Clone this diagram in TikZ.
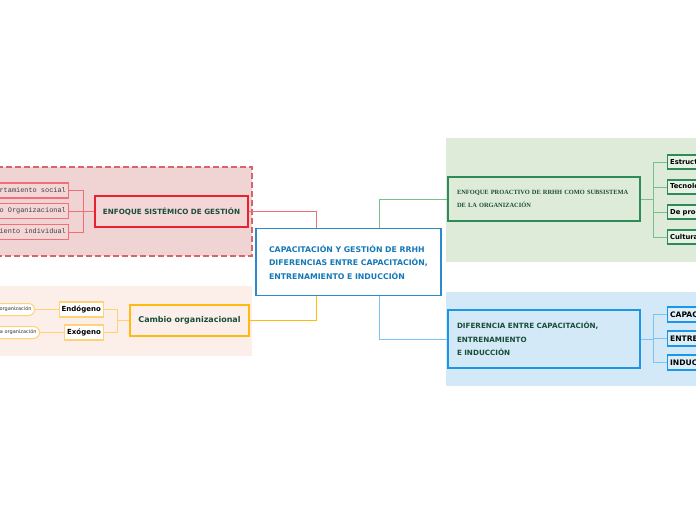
\documentclass[tikz,border=0pt]{standalone}
\usepackage{fontspec}
\setmainfont{DejaVu Sans}
\newfontfamily\monofont{Liberation Mono}
\newfontfamily\seriffont{Liberation Serif}
\usetikzlibrary{positioning}
\definecolor{MainBlue}   {HTML}{2B8ACB}
\definecolor{MainText}   {HTML}{1479B8}
\definecolor{DarkGreen}  {HTML}{1A4D3A}
\definecolor{RedLine}    {HTML}{E8232F}
\definecolor{RedSoft}    {HTML}{EE7079}
\definecolor{PinkBG}     {HTML}{F0D3D3}
\definecolor{PinkBox}    {HTML}{F4D6D7}
\definecolor{PinkDash}   {HTML}{D8646C}
\definecolor{YellowLine} {HTML}{FFB90F}
\definecolor{YellowSoft} {HTML}{FFD277}
\definecolor{CreamBG}    {HTML}{FCEFEA}
\definecolor{GreenLine}  {HTML}{2E8B57}
\definecolor{GreenSoft}  {HTML}{76C08E}
\definecolor{GreenBG}    {HTML}{DDEBD8}
\definecolor{GreenBox}   {HTML}{E6F2E3}
\definecolor{BlueLine}   {HTML}{1E96E8}
\definecolor{BlueSoft}   {HTML}{7CC4F4}
\definecolor{BlueBG}     {HTML}{D3E9F8}
\definecolor{BlueBox}    {HTML}{DCEEFA}

\tikzset{
  topic/.style={draw,line width=2pt,inner ysep=0pt,font=\bfseries\fontsize{7.2}{13.5}\selectfont,text=DarkGreen},
  redchild/.style={draw=RedSoft,fill=PinkBox,line width=1.3pt,minimum height=15pt,inner sep=2.5pt,
    font=\monofont\fontsize{6.9}{8}\selectfont,text=black!75},
  pill/.style={draw=YellowSoft,fill=white,line width=1pt,rounded corners=6pt,minimum height=12pt,inner sep=3pt,
    font=\fontsize{5}{6}\selectfont,text=black!80},
  yelchild/.style={draw=YellowSoft,fill=white,line width=1.3pt,minimum height=15pt,inner sep=2.5pt,
    font=\bfseries\fontsize{7}{8}\selectfont},
  greenchild/.style={draw=GreenLine,fill=GreenBox,line width=1.2pt,minimum height=14pt,inner sep=2.5pt,
    font=\bfseries\fontsize{6.8}{8}\selectfont},
  bluechild/.style={draw=BlueLine,fill=BlueBox,line width=1.2pt,minimum height=15pt,inner sep=2.5pt,
    font=\bfseries\fontsize{7.6}{8}\selectfont},
  link/.style={line width=1pt}
}

\begin{document}
\begin{tikzpicture}[x=1pt,y=-1pt]
  \useasboundingbox (0,0) rectangle (696,520);
  \clip (0,0) rectangle (696,520);

  % background areas
  \fill[PinkBG] (-5,167) rectangle (252,256);
  \draw[PinkDash,line width=1.3pt,dash pattern=on 6pt off 3pt] (-5,167) rectangle (252,256);
  \fill[CreamBG] (-5,286) rectangle (252,356);
  \fill[GreenBG] (446,138) rectangle (700,262);
  \fill[BlueBG] (446,292) rectangle (700,386);

  % central topic
  \node[draw=MainBlue,fill=white,line width=1.5pt,minimum width=185pt,minimum height=67pt,
        inner xsep=13pt,text width=159pt,align=left,text=MainText,
        font=\bfseries\fontsize{7.8}{13.5}\selectfont] (main) at (348.5,262)
    {CAPACITACIÓN Y GESTIÓN DE RRHH\\DIFERENCIAS ENTRE CAPACITACIÓN,\\ENTRENAMIENTO E INDUCCIÓN};

  % left upper branch
  \node[topic,draw=RedLine,fill=PinkBox,minimum width=153pt,minimum height=31pt] (sistemico) at (171.5,211.5)
    {ENFOQUE SISTÉMICO DE GESTIÓN};
  \node[redchild,anchor=east] (social) at (69,190.5) {Comportamiento social};
  \node[redchild,anchor=east] (desarrollo) at (69,211) {Desarrollo Organizacíonal};
  \node[redchild,anchor=east] (individual) at (69,232) {Comportamiento individual};
  \foreach \c in {social,desarrollo,individual}
    \draw[link,RedSoft] (sistemico.west) -- ++(-11,0) |- (\c.east);
  \draw[link,RedSoft] (sistemico.east) -| (main.north -| 316,0);

  % left lower branch
  \node[topic,draw=YellowLine,fill=CreamBG,minimum width=119pt,minimum height=31pt,
        font=\bfseries\fontsize{8}{9}\selectfont] (cambio) at (189.5,320.5) {Cambio organizacional};
  \node[yelchild,anchor=east] (endogeno) at (104,309.5) {Endógeno};
  \node[yelchild,anchor=east] (exogeno) at (104,332.5) {Exógeno};
  \node[pill,anchor=east] (dentro) at (35,309.5) {Dentro de la organización};
  \node[pill,anchor=east] (fuera) at (40,332.5) {Fuera de la organización};
  \foreach \c in {endogeno,exogeno}
    \draw[link,YellowSoft] (cambio.west) -- ++(-12,0) |- (\c.east);
  \draw[link,YellowSoft] (dentro) -- (endogeno);
  \draw[link,YellowSoft] (fuera) -- (exogeno);
  \draw[link,YellowLine] (cambio.east) -| (main.south -| 316,0);

  % right upper branch
  \node[topic,draw=GreenLine,fill=GreenBG,line width=2.2pt,minimum width=192pt,minimum height=44pt,
        inner xsep=9pt,text width=174pt,align=left,
        font=\seriffont\bfseries\fontsize{6.4}{13}\selectfont] (proactivo) at (544,199)
    {ENFOQUE PROACTIVO DE RRHH COMO SUBSISTEMA\\DE LA ORGANIZACIÓN};
  \node[greenchild,anchor=west] (estructural) at (667,162) {Estructural};
  \node[greenchild,anchor=west] (tecnologico) at (667,187) {Tecnológico};
  \node[greenchild,anchor=west] (produccion) at (667,212) {De producción};
  \node[greenchild,anchor=west] (cultural) at (667,237) {Cultural};
  \foreach \c in {estructural,tecnologico,produccion,cultural}
    \draw[link,GreenSoft] (proactivo.east) -- ++(12,0) |- (\c.west);
  \draw[link,GreenSoft] (main.north -| 379,0) |- (proactivo.west);

  % right lower branch
  \node[topic,draw=BlueLine,fill=BlueBG,minimum width=192pt,minimum height=58pt,
        inner xsep=9pt,text width=174pt,align=left] (diferencia) at (544,339)
    {DIFERENCIA ENTRE CAPACITACIÓN,\\ENTRENAMIENTO\\E INDUCCIÓN};
  \node[bluechild,anchor=west] (capacitacion) at (667,314.5) {CAPACITACIÓN};
  \node[bluechild,anchor=west] (entrenamiento) at (667,338.5) {ENTRENAMIENTO};
  \node[bluechild,anchor=west] (induccion) at (667,362.5) {INDUCCIÓN};
  \foreach \c in {capacitacion,entrenamiento,induccion}
    \draw[link,BlueSoft] (diferencia.east) -- ++(12,0) |- (\c.west);
  \draw[link,BlueSoft] (main.south -| 379,0) |- (diferencia.west);
\end{tikzpicture}
\end{document}
